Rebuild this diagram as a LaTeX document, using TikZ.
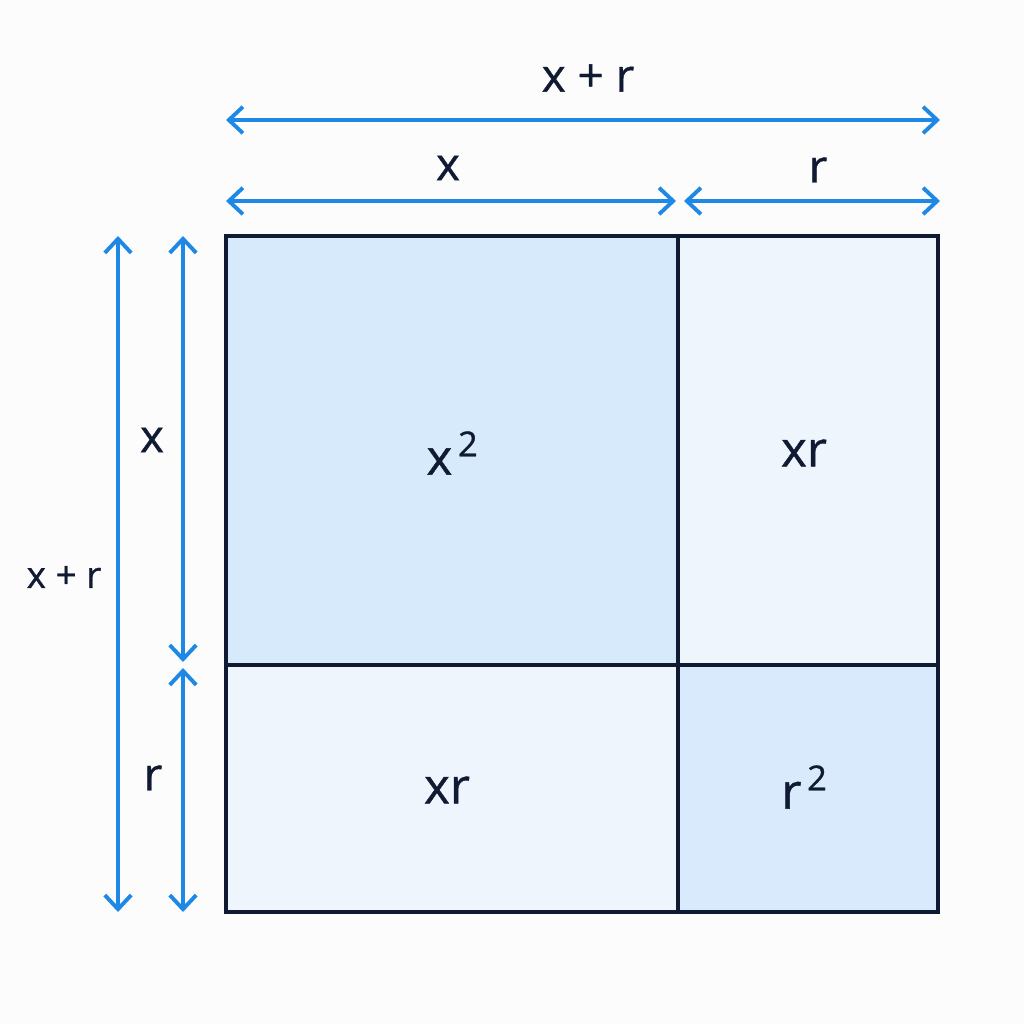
\documentclass[tikz,border=0pt]{standalone}
\usepackage{fontspec}
\setmainfont{Open Sans}[RawFeature={embolden=0.8}]
\usetikzlibrary{arrows.meta}
\definecolor{ink}{HTML}{111A33}
\definecolor{dimblue}{HTML}{1E88E5}
\definecolor{bigfill}{HTML}{D6EAFC}
\definecolor{midfill}{HTML}{EEF5FD}
\definecolor{smallfill}{HTML}{D9EAFC}
\begin{document}
\begin{tikzpicture}[x=0.01cm, y=-0.01cm,
	cell/.style = {draw=ink, line width=1.1pt},
	dim/.style = {draw=dimblue, line width=1.1pt,
		{Straight Barb[length=4pt, width=7.5pt]}-{Straight Barb[length=4pt, width=7.5pt]}},
	dimlabel/.style = {text=ink, font=\fontsize{13}{15}\selectfont, inner sep=0pt},
	sidelabel/.style = {dimlabel, font=\fontsize{10.5}{12}\selectfont},
	celllabel/.style = {text=ink, font=\fontsize{14}{17}\selectfont, inner sep=0pt}]
	\fill[white!98!gray] (0,0) rectangle (1024,1024);
	\useasboundingbox (0,0) rectangle (1024,1024);
	% corners of the square
	\coordinate (nw) at (226,236);
	\coordinate (mid) at (678,665);
	\coordinate (se) at (938,912);
	\fill[bigfill] (nw) rectangle (mid);
	\fill[midfill] (678,236) rectangle (938,665);
	\fill[midfill] (226,665) rectangle (678,912);
	\fill[smallfill] (mid) rectangle (se);
	\draw[cell] (nw) rectangle (se);
	\draw[cell] (678,236) -- (678,912);
	\draw[cell] (226,665) -- (938,665);
	% cell labels
	\node[celllabel] (xx) at (453,453) {x\textsuperscript{\,2}};
	\node[celllabel] (xr1) at (804,453) {xr};
	\node[celllabel] (xr2) at (447,790) {xr};
	\node[celllabel] (rr) at (805,787) {r\textsuperscript{\,2}};
	% dimension ends
	\coordinate (t1) at (226,120);
	\coordinate (t2) at (940,120);
	\coordinate (u1) at (226,201);
	\coordinate (u2) at (676,201);
	\coordinate (u3) at (684,201);
	\coordinate (u4) at (940,201);
	\coordinate (l1) at (118,236);
	\coordinate (l2) at (118,912);
	\coordinate (m1) at (183,236);
	\coordinate (m2) at (183,662);
	\coordinate (m3) at (183,668);
	\coordinate (m4) at (183,912);
	\draw[dim] (t1) -- (t2);
	\draw[dim] (u1) -- (u2);
	\draw[dim] (u3) -- (u4);
	\draw[dim] (l1) -- (l2);
	\draw[dim] (m1) -- (m2);
	\draw[dim] (m3) -- (m4);
	\node[dimlabel] (top) at (588,78) {x + r};
	\node[dimlabel] (topx) at (448,168) {x};
	\node[dimlabel] (topr) at (818,170) {r};
	\node[sidelabel] (left) at (64,577) {x + r};
	\node[dimlabel] (leftx) at (152,440) {x};
	\node[dimlabel] (leftr) at (153,778) {r};
\end{tikzpicture}
\end{document}
